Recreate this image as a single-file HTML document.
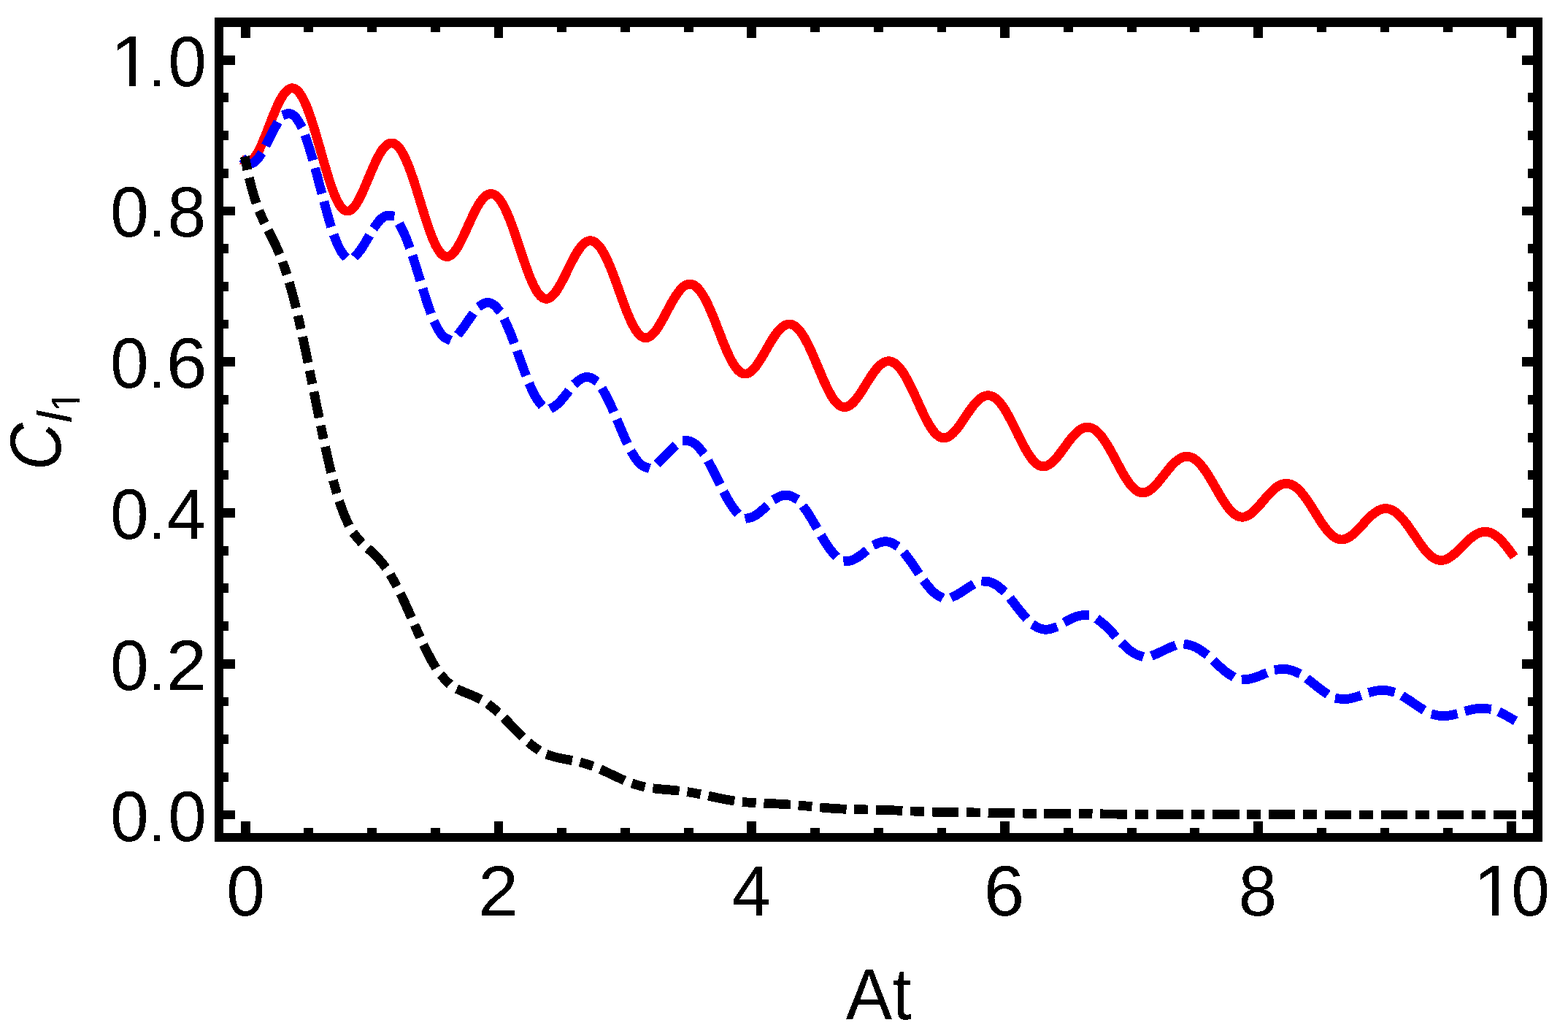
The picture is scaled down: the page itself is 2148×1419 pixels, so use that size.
<!DOCTYPE html>
<html lang="en"><head><meta charset="utf-8"><title>Coherence plot</title>
<style>html,body{margin:0;padding:0;background:#fff;overflow:hidden}svg{display:block}text{font-family:"Liberation Sans",Arial,Helvetica,sans-serif;fill:#000;text-rendering:geometricPrecision}</style></head><body>
<svg width="2148" height="1419" viewBox="0 0 2148 1419">
<rect x="0" y="0" width="2148" height="1419" fill="#fff"/>
<g fill="none" stroke-width="12.82" stroke-linecap="square" stroke-linejoin="round" shape-rendering="crispEdges">
<path stroke="#f00" d="M336.50 220.71 338.23 221.37 339.97 221.55 341.70 221.27 343.44 220.52 345.17 219.34 346.90 217.73 348.64 215.71 350.37 213.32 352.11 210.57 353.84 207.49 355.57 204.12 357.31 200.49 359.04 196.63 360.78 192.57 362.51 188.36 364.24 184.02 365.98 179.59 367.71 175.12 369.45 170.62 371.18 166.15 372.91 161.73 374.65 157.39 376.38 153.18 378.12 149.11 379.85 145.22 381.58 141.54 383.32 138.09 385.05 134.89 386.79 131.98 388.52 129.36 390.25 127.06 391.99 125.10 393.72 123.49 395.46 122.24 397.19 121.37 398.92 120.88 400.66 120.78 402.39 121.07 404.13 121.76 405.86 122.84 407.59 124.33 409.33 126.20 411.06 128.45 412.80 131.09 414.53 134.09 416.26 137.45 418.00 141.15 419.73 145.18 421.47 149.52 423.20 154.15 424.93 159.05 426.67 164.19 428.40 169.56 430.14 175.12 431.87 180.85 433.60 186.72 435.34 192.71 437.07 198.77 438.81 204.88 440.54 211.00 442.27 217.11 444.01 223.17 445.74 229.14 447.48 234.99 449.21 240.69 450.94 246.20 452.68 251.50 454.41 256.55 456.15 261.31 457.88 265.78 459.61 269.90 461.35 273.68 463.08 277.07 464.82 280.07 466.55 282.66 468.28 284.82 470.02 286.55 471.75 287.83 473.49 288.68 475.22 289.08 476.95 289.05 478.69 288.59 480.42 287.71 482.16 286.44 483.89 284.77 485.62 282.75 487.36 280.38 489.09 277.69 490.83 274.72 492.56 271.49 494.29 268.03 496.03 264.38 497.76 260.55 499.50 256.60 501.23 252.55 502.96 248.43 504.70 244.28 506.43 240.13 508.17 236.01 509.90 231.96 511.63 228.00 513.37 224.16 515.10 220.47 516.84 216.96 518.57 213.65 520.30 210.57 522.04 207.73 523.77 205.16 525.51 202.88 527.24 200.90 528.97 199.23 530.71 197.89 532.44 196.90 534.18 196.25 535.91 195.96 537.64 196.04 539.38 196.48 541.11 197.28 542.85 198.45 544.58 199.99 546.31 201.88 548.05 204.13 549.78 206.73 551.52 209.65 553.25 212.91 554.98 216.47 556.72 220.33 558.45 224.47 560.19 228.86 561.92 233.50 563.65 238.35 565.39 243.40 567.12 248.61 568.86 253.98 570.59 259.46 572.32 265.02 574.06 270.65 575.79 276.31 577.53 281.97 579.26 287.60 580.99 293.17 582.73 298.64 584.46 303.99 586.20 309.18 587.93 314.19 589.66 318.98 591.40 323.53 593.13 327.81 594.87 331.80 596.60 335.47 598.33 338.80 600.07 341.77 601.80 344.37 603.54 346.58 605.27 348.39 607.00 349.80 608.74 350.81 610.47 351.40 612.21 351.59 613.94 351.37 615.67 350.77 617.41 349.79 619.14 348.44 620.88 346.74 622.61 344.72 624.34 342.40 626.08 339.79 627.81 336.93 629.55 333.84 631.28 330.55 633.01 327.10 634.75 323.51 636.48 319.81 638.22 316.03 639.95 312.20 641.68 308.36 643.42 304.54 645.15 300.75 646.89 297.04 648.62 293.43 650.35 289.94 652.09 286.61 653.82 283.44 655.56 280.48 657.29 277.73 659.02 275.22 660.76 272.96 662.49 270.98 664.23 269.28 665.96 267.88 667.69 266.79 669.43 266.01 671.16 265.57 672.90 265.45 674.63 265.68 676.36 266.24 678.10 267.14 679.83 268.38 681.57 269.95 683.30 271.85 685.03 274.08 686.77 276.62 688.50 279.47 690.24 282.61 691.97 286.03 693.70 289.72 695.44 293.65 697.17 297.82 698.91 302.20 700.64 306.77 702.37 311.52 704.11 316.40 705.84 321.41 707.58 326.52 709.31 331.70 711.04 336.92 712.78 342.15 714.51 347.37 716.25 352.56 717.98 357.67 719.71 362.68 721.45 367.56 723.18 372.28 724.92 376.82 726.65 381.16 728.38 385.25 730.12 389.09 731.85 392.64 733.59 395.89 735.32 398.82 737.05 401.41 738.79 403.64 740.52 405.52 742.26 407.03 743.99 408.16 745.72 408.91 747.46 409.29 749.19 409.29 750.93 408.92 752.66 408.20 754.39 407.14 756.13 405.74 757.86 404.03 759.60 402.03 761.33 399.76 763.06 397.24 764.80 394.49 766.53 391.55 768.27 388.44 770.00 385.18 771.73 381.81 773.47 378.35 775.20 374.84 776.94 371.29 778.67 367.74 780.40 364.22 782.14 360.75 783.87 357.36 785.61 354.07 787.34 350.91 789.07 347.89 790.81 345.05 792.54 342.40 794.28 339.96 796.01 337.74 797.74 335.77 799.48 334.06 801.21 332.61 802.95 331.45 804.68 330.57 806.41 330.00 808.15 329.72 809.88 329.76 811.62 330.11 813.35 330.78 815.08 331.75 816.82 333.04 818.55 334.63 820.29 336.53 822.02 338.73 823.75 341.21 825.49 343.97 827.22 346.99 828.96 350.27 830.69 353.78 832.42 357.52 834.16 361.47 835.89 365.60 837.63 369.90 839.36 374.35 841.09 378.93 842.83 383.60 844.56 388.36 846.30 393.16 848.03 398.00 849.76 402.84 851.50 407.65 853.23 412.41 854.97 417.10 856.70 421.68 858.43 426.13 860.17 430.42 861.90 434.53 863.64 438.44 865.37 442.12 867.10 445.54 868.84 448.70 870.57 451.57 872.31 454.14 874.04 456.38 875.77 458.30 877.51 459.88 879.24 461.11 880.98 461.99 882.71 462.53 884.44 462.72 886.18 462.56 887.91 462.07 889.65 461.26 891.38 460.13 893.11 458.70 894.85 457.00 896.58 455.03 898.32 452.82 900.05 450.39 901.78 447.77 903.52 444.97 905.25 442.03 906.99 438.97 908.72 435.81 910.45 432.59 912.19 429.32 913.92 426.04 915.66 422.77 917.39 419.53 919.12 416.35 920.86 413.26 922.59 410.27 924.33 407.40 926.06 404.69 927.79 402.14 929.53 399.78 931.26 397.61 933.00 395.67 934.73 393.95 936.46 392.48 938.20 391.26 939.93 390.31 941.67 389.63 943.40 389.22 945.13 389.10 946.87 389.27 948.60 389.73 950.34 390.47 952.07 391.51 953.80 392.83 955.54 394.43 957.27 396.32 959.01 398.47 960.74 400.88 962.47 403.54 964.21 406.45 965.94 409.58 967.68 412.93 969.41 416.48 971.14 420.21 972.88 424.10 974.61 428.14 976.35 432.31 978.08 436.59 979.81 440.94 981.55 445.36 983.28 449.82 985.02 454.30 986.75 458.76 988.48 463.19 990.22 467.57 991.95 471.86 993.69 476.04 995.42 480.09 997.15 483.98 998.89 487.70 1000.62 491.22 1002.36 494.51 1004.09 497.57 1005.82 500.37 1007.56 502.89 1009.29 505.13 1011.03 507.07 1012.76 508.69 1014.49 510.01 1016.23 511.00 1017.96 511.67 1019.70 512.01 1021.43 512.04 1023.16 511.75 1024.90 511.16 1026.63 510.27 1028.37 509.10 1030.10 507.66 1031.83 505.97 1033.57 504.05 1035.30 501.91 1037.04 499.58 1038.77 497.08 1040.50 494.43 1042.24 491.65 1043.97 488.78 1045.71 485.83 1047.44 482.83 1049.17 479.80 1050.91 476.77 1052.64 473.75 1054.38 470.78 1056.11 467.88 1057.84 465.06 1059.58 462.35 1061.31 459.76 1063.05 457.32 1064.78 455.04 1066.51 452.94 1068.25 451.03 1069.98 449.33 1071.72 447.84 1073.45 446.59 1075.18 445.57 1076.92 444.81 1078.65 444.29 1080.39 444.04 1082.12 444.05 1083.85 444.33 1085.59 444.88 1087.32 445.69 1089.06 446.77 1090.79 448.11 1092.52 449.71 1094.26 451.57 1095.99 453.67 1097.73 456.01 1099.46 458.57 1101.19 461.36 1102.93 464.35 1104.66 467.53 1106.40 470.89 1108.13 474.41 1109.86 478.07 1111.60 481.87 1113.33 485.77 1115.07 489.76 1116.80 493.82 1118.53 497.92 1120.27 502.05 1122.00 506.19 1123.74 510.30 1125.47 514.38 1127.20 518.39 1128.94 522.31 1130.67 526.12 1132.41 529.80 1134.14 533.33 1135.87 536.68 1137.61 539.84 1139.34 542.79 1141.08 545.51 1142.81 547.98 1144.54 550.19 1146.28 552.14 1148.01 553.80 1149.75 555.17 1151.48 556.25 1153.21 557.02 1154.95 557.51 1156.68 557.69 1158.42 557.58 1160.15 557.18 1161.88 556.51 1163.62 555.57 1165.35 554.37 1167.09 552.93 1168.82 551.26 1170.55 549.39 1172.29 547.33 1174.02 545.10 1175.76 542.72 1177.49 540.22 1179.22 537.61 1180.96 534.91 1182.69 532.16 1184.43 529.37 1186.16 526.57 1187.89 523.77 1189.63 521.00 1191.36 518.28 1193.10 515.63 1194.83 513.07 1196.56 510.61 1198.30 508.28 1200.03 506.09 1201.77 504.05 1203.50 502.19 1205.23 500.51 1206.97 499.03 1208.70 497.76 1210.44 496.70 1212.17 495.86 1213.90 495.26 1215.64 494.90 1217.37 494.78 1219.11 494.90 1220.84 495.27 1222.57 495.89 1224.31 496.76 1226.04 497.87 1227.78 499.22 1229.51 500.81 1231.24 502.63 1232.98 504.67 1234.71 506.93 1236.45 509.40 1238.18 512.06 1239.91 514.91 1241.65 517.93 1243.38 521.10 1245.12 524.42 1246.85 527.87 1248.58 531.42 1250.32 535.07 1252.05 538.79 1253.79 542.56 1255.52 546.37 1257.25 550.19 1258.99 554.01 1260.72 557.80 1262.46 561.54 1264.19 565.21 1265.92 568.80 1267.66 572.27 1269.39 575.61 1271.13 578.80 1272.86 581.82 1274.59 584.65 1276.33 587.28 1278.06 589.69 1279.80 591.86 1281.53 593.80 1283.26 595.47 1285.00 596.89 1286.73 598.03 1288.47 598.90 1290.20 599.49 1291.93 599.81 1293.67 599.85 1295.40 599.63 1297.14 599.14 1298.87 598.41 1300.60 597.42 1302.34 596.21 1304.07 594.78 1305.81 593.15 1307.54 591.34 1309.27 589.36 1311.01 587.23 1312.74 584.98 1314.48 582.61 1316.21 580.16 1317.94 577.65 1319.68 575.08 1321.41 572.50 1323.15 569.91 1324.88 567.33 1326.61 564.79 1328.35 562.30 1330.08 559.88 1331.82 557.56 1333.55 555.34 1335.28 553.24 1337.02 551.28 1338.75 549.47 1340.49 547.83 1342.22 546.36 1343.95 545.07 1345.69 543.99 1347.42 543.10 1349.16 542.43 1350.89 541.97 1352.62 541.74 1354.36 541.73 1356.09 541.95 1357.83 542.40 1359.56 543.08 1361.29 543.98 1363.03 545.11 1364.76 546.46 1366.50 548.03 1368.23 549.81 1369.96 551.79 1371.70 553.97 1373.43 556.34 1375.17 558.88 1376.90 561.58 1378.63 564.44 1380.37 567.44 1382.10 570.56 1383.84 573.80 1385.57 577.12 1387.30 580.53 1389.04 583.99 1390.77 587.50 1392.51 591.03 1394.24 594.56 1395.97 598.08 1397.71 601.57 1399.44 605.00 1401.18 608.36 1402.91 611.63 1404.64 614.78 1406.38 617.81 1408.11 620.69 1409.85 623.40 1411.58 625.93 1413.31 628.27 1415.05 630.40 1416.78 632.31 1418.52 633.99 1420.25 635.43 1421.98 636.62 1423.72 637.56 1425.45 638.25 1427.19 638.68 1428.92 638.86 1430.65 638.78 1432.39 638.46 1434.12 637.91 1435.86 637.12 1437.59 636.11 1439.32 634.90 1441.06 633.49 1442.79 631.90 1444.53 630.15 1446.26 628.26 1447.99 626.23 1449.73 624.10 1451.46 621.88 1453.20 619.58 1454.93 617.23 1456.66 614.85 1458.40 612.45 1460.13 610.06 1461.87 607.69 1463.60 605.36 1465.33 603.09 1467.07 600.89 1468.80 598.79 1470.54 596.79 1472.27 594.90 1474.00 593.15 1475.74 591.55 1477.47 590.10 1479.21 588.82 1480.94 587.72 1482.67 586.80 1484.41 586.07 1486.14 585.54 1487.88 585.21 1489.61 585.09 1491.34 585.18 1493.08 585.48 1494.81 585.99 1496.55 586.72 1498.28 587.65 1500.01 588.79 1501.75 590.13 1503.48 591.67 1505.22 593.40 1506.95 595.32 1508.68 597.41 1510.42 599.68 1512.15 602.10 1513.89 604.67 1515.62 607.37 1517.35 610.20 1519.09 613.13 1520.82 616.16 1522.56 619.27 1524.29 622.45 1526.02 625.67 1527.76 628.92 1529.49 632.19 1531.23 635.46 1532.96 638.70 1534.69 641.90 1536.43 645.04 1538.16 648.11 1539.90 651.09 1541.63 653.95 1543.36 656.69 1545.10 659.28 1546.83 661.71 1548.57 663.97 1550.30 666.05 1552.03 667.93 1553.77 669.59 1555.50 671.04 1557.24 672.27 1558.97 673.27 1560.70 674.03 1562.44 674.55 1564.17 674.84 1565.91 674.90 1567.64 674.73 1569.37 674.33 1571.11 673.71 1572.84 672.89 1574.58 671.87 1576.31 670.66 1578.04 669.28 1579.78 667.75 1581.51 666.07 1583.25 664.26 1584.98 662.34 1586.71 660.32 1588.45 658.24 1590.18 656.09 1591.92 653.90 1593.65 651.69 1595.38 649.48 1597.12 647.27 1598.85 645.10 1600.59 642.97 1602.32 640.90 1604.05 638.90 1605.79 637.00 1607.52 635.20 1609.26 633.51 1610.99 631.95 1612.72 630.54 1614.46 629.27 1616.19 628.16 1617.93 627.22 1619.66 626.45 1621.39 625.86 1623.13 625.45 1624.86 625.24 1626.60 625.21 1628.33 625.39 1630.06 625.75 1631.80 626.32 1633.53 627.07 1635.27 628.02 1637.00 629.16 1638.73 630.49 1640.47 632.00 1642.20 633.68 1643.94 635.53 1645.67 637.54 1647.40 639.70 1649.14 642.00 1650.87 644.43 1652.61 646.98 1654.34 649.65 1656.07 652.40 1657.81 655.24 1659.54 658.14 1661.28 661.10 1663.01 664.10 1664.74 667.11 1666.48 670.13 1668.21 673.14 1669.95 676.12 1671.68 679.06 1673.41 681.94 1675.15 684.74 1676.88 687.44 1678.62 690.04 1680.35 692.51 1682.08 694.84 1683.82 697.02 1685.55 699.03 1687.29 700.86 1689.02 702.51 1690.75 703.96 1692.49 705.21 1694.22 706.24 1695.96 707.06 1697.69 707.67 1699.42 708.05 1701.16 708.22 1702.89 708.18 1704.63 707.92 1706.36 707.46 1708.09 706.80 1709.83 705.96 1711.56 704.93 1713.30 703.74 1715.03 702.40 1716.76 700.91 1718.50 699.30 1720.23 697.58 1721.97 695.76 1723.70 693.87 1725.43 691.91 1727.17 689.91 1728.90 687.87 1730.64 685.83 1732.37 683.78 1734.10 681.75 1735.84 679.76 1737.57 677.81 1739.31 675.93 1741.04 674.12 1742.77 672.40 1744.51 670.79 1746.24 669.28 1747.98 667.90 1749.71 666.65 1751.44 665.55 1753.18 664.59 1754.91 663.79 1756.65 663.16 1758.38 662.69 1760.11 662.40 1761.85 662.28 1763.58 662.34 1765.32 662.58 1767.05 663.01 1768.78 663.61 1770.52 664.39 1772.25 665.35 1773.99 666.49 1775.72 667.79 1777.45 669.26 1779.19 670.88 1780.92 672.66 1782.66 674.58 1784.39 676.64 1786.12 678.83 1787.86 681.13 1789.59 683.54 1791.33 686.04 1793.06 688.62 1794.79 691.28 1796.53 693.99 1798.26 696.74 1800.00 699.52 1801.73 702.31 1803.46 705.10 1805.20 707.87 1806.93 710.61 1808.67 713.30 1810.40 715.93 1812.13 718.48 1813.87 720.94 1815.60 723.28 1817.34 725.51 1819.07 727.60 1820.80 729.55 1822.54 731.33 1824.27 732.95 1826.01 734.39 1827.74 735.64 1829.47 736.71 1831.21 737.57 1832.94 738.24 1834.68 738.71 1836.41 738.97 1838.14 739.04 1839.88 738.90 1841.61 738.58 1843.35 738.07 1845.08 737.38 1846.81 736.52 1848.55 735.50 1850.28 734.33 1852.02 733.03 1853.75 731.60 1855.48 730.06 1857.22 728.43 1858.95 726.71 1860.69 724.93 1862.42 723.10 1864.15 721.24 1865.89 719.35 1867.62 717.45 1869.36 715.57 1871.09 713.71 1872.82 711.88 1874.56 710.11 1876.29 708.40 1878.03 706.76 1879.76 705.22 1881.49 703.77 1883.23 702.43 1884.96 701.21 1886.70 700.11 1888.43 699.16 1890.16 698.34 1891.90 697.67 1893.63 697.15 1895.37 696.79 1897.10 696.60 1898.83 696.56 1900.57 696.70 1902.30 697.00 1904.04 697.47 1905.77 698.10 1907.50 698.90 1909.24 699.86 1910.97 700.98 1912.71 702.26 1914.44 703.68 1916.17 705.25 1917.91 706.96 1919.64 708.79 1921.38 710.75 1923.11 712.82 1924.84 715.00 1926.58 717.26 1928.31 719.61 1930.05 722.03 1931.78 724.51 1933.51 727.04 1935.25 729.59 1936.98 732.17 1938.72 734.75 1940.45 737.32 1942.18 739.88 1943.92 742.39 1945.65 744.85 1947.39 747.25 1949.12 749.57 1950.85 751.79 1952.59 753.92 1954.32 755.92 1956.06 757.79 1957.79 759.52 1959.52 761.10 1961.26 762.52 1962.99 763.78 1964.73 764.85 1966.46 765.75 1968.19 766.47 1969.93 767.00 1971.66 767.35 1973.40 767.51 1975.13 767.48 1976.86 767.28 1978.60 766.90 1980.33 766.35 1982.07 765.64 1983.80 764.77 1985.53 763.77 1987.27 762.63 1989.00 761.37 1990.74 760.00 1992.47 758.54 1994.20 756.99 1995.94 755.37 1997.67 753.71 1999.41 752.00 2001.14 750.26 2002.87 748.51 2004.61 746.76 2006.34 745.03 2008.08 743.32 2009.81 741.65 2011.54 740.04 2013.28 738.49 2015.01 737.01 2016.75 735.62 2018.48 734.33 2020.21 733.14 2021.95 732.07 2023.68 731.11 2025.42 730.28 2027.15 729.59 2028.88 729.04 2030.62 728.62 2032.35 728.36 2034.09 728.25 2035.82 728.29 2037.55 728.48 2039.29 728.83 2041.02 729.34 2042.76 729.99 2044.49 730.80 2046.22 731.76 2047.96 732.86 2049.69 734.10 2051.43 735.48 2053.16 736.99 2054.89 738.63 2056.63 740.38 2058.36 742.24 2060.10 744.20 2061.83 746.25 2063.56 748.38 2065.30 750.58 2067.03 752.85 2068.77 755.16 2070.50 757.51"/>
<path stroke="#00f" stroke-dasharray="23.65 23.65" stroke-dashoffset="0" d="M336.50 220.71 338.23 222.26 339.97 223.34 341.70 223.95 343.44 224.10 345.17 223.81 346.90 223.10 348.64 221.99 350.37 220.51 352.11 218.68 353.84 216.53 355.57 214.10 357.31 211.41 359.04 208.51 360.78 205.41 362.51 202.17 364.24 198.81 365.98 195.38 367.71 191.90 369.45 188.42 371.18 184.96 372.91 181.56 374.65 178.25 376.38 175.07 378.12 172.04 379.85 169.19 381.58 166.55 383.32 164.14 385.05 161.98 386.79 160.11 388.52 158.52 390.25 157.25 391.99 156.31 393.72 155.71 395.46 155.47 397.19 155.58 398.92 156.07 400.66 156.93 402.39 158.17 404.13 159.79 405.86 161.79 407.59 164.16 409.33 166.91 411.06 170.02 412.80 173.49 414.53 177.30 416.26 181.45 418.00 185.91 419.73 190.68 421.47 195.74 423.20 201.06 424.93 206.63 426.67 212.42 428.40 218.42 430.14 224.58 431.87 230.90 433.60 237.34 435.34 243.87 437.07 250.46 438.81 257.08 440.54 263.71 442.27 270.31 444.01 276.85 445.74 283.29 447.48 289.61 449.21 295.78 450.94 301.76 452.68 307.53 454.41 313.05 456.15 318.30 457.88 323.26 459.61 327.90 461.35 332.20 463.08 336.14 464.82 339.70 466.55 342.88 468.28 345.65 470.02 348.02 471.75 349.98 473.49 351.53 475.22 352.67 476.95 353.40 478.69 353.74 480.42 353.69 482.16 353.28 483.89 352.51 485.62 351.42 487.36 350.01 489.09 348.32 490.83 346.37 492.56 344.18 494.29 341.80 496.03 339.24 497.76 336.53 499.50 333.71 501.23 330.81 502.96 327.85 504.70 324.87 506.43 321.90 508.17 318.97 509.90 316.09 511.63 313.31 513.37 310.65 515.10 308.13 516.84 305.77 518.57 303.60 520.30 301.64 522.04 299.91 523.77 298.41 525.51 297.18 527.24 296.23 528.97 295.56 530.71 295.18 532.44 295.11 534.18 295.36 535.91 295.92 537.64 296.81 539.38 298.01 541.11 299.55 542.85 301.40 544.58 303.58 546.31 306.07 548.05 308.87 549.78 311.97 551.52 315.36 553.25 319.03 554.98 322.97 556.72 327.16 558.45 331.59 560.19 336.24 561.92 341.09 563.65 346.12 565.39 351.31 567.12 356.64 568.86 362.09 570.59 367.63 572.32 373.24 574.06 378.89 575.79 384.56 577.53 390.21 579.26 395.83 580.99 401.39 582.73 406.85 584.46 412.20 586.20 417.40 587.93 422.43 589.66 427.26 591.40 431.88 593.13 436.25 594.87 440.37 596.60 444.20 598.33 447.74 600.07 450.96 601.80 453.85 603.54 456.41 605.27 458.62 607.00 460.48 608.74 462.00 610.47 463.16 612.21 463.97 613.94 464.44 615.67 464.58 617.41 464.39 619.14 463.90 620.88 463.11 622.61 462.05 624.34 460.73 626.08 459.18 627.81 457.42 629.55 455.47 631.28 453.36 633.01 451.11 634.75 448.75 636.48 446.30 638.22 443.80 639.95 441.26 641.68 438.71 643.42 436.19 645.15 433.70 646.89 431.28 648.62 428.95 650.35 426.72 652.09 424.63 653.82 422.69 655.56 420.91 657.29 419.32 659.02 417.93 660.76 416.76 662.49 415.82 664.23 415.11 665.96 414.65 667.69 414.45 669.43 414.51 671.16 414.85 672.90 415.46 674.63 416.34 676.36 417.50 678.10 418.94 679.83 420.65 681.57 422.63 683.30 424.89 685.03 427.40 686.77 430.16 688.50 433.17 690.24 436.42 691.97 439.88 693.70 443.56 695.44 447.43 697.17 451.49 698.91 455.70 700.64 460.07 702.37 464.57 704.11 469.17 705.84 473.87 707.58 478.63 709.31 483.44 711.04 488.28 712.78 493.12 714.51 497.94 716.25 502.72 717.98 507.44 719.71 512.06 721.45 516.58 723.18 520.96 724.92 525.18 726.65 529.23 728.38 533.08 730.12 536.72 731.85 540.13 733.59 543.29 735.32 546.19 737.05 548.81 738.79 551.16 740.52 553.21 742.26 554.96 743.99 556.42 745.72 557.57 747.46 558.43 749.19 558.98 750.93 559.25 752.66 559.24 754.39 558.96 756.13 558.42 757.86 557.64 759.60 556.63 761.33 555.41 763.06 554.00 764.80 552.42 766.53 550.69 768.27 548.82 770.00 546.86 771.73 544.80 773.47 542.69 775.20 540.53 776.94 538.35 778.67 536.18 780.40 534.03 782.14 531.93 783.87 529.90 785.61 527.94 787.34 526.09 789.07 524.36 790.81 522.76 792.54 521.32 794.28 520.04 796.01 518.93 797.74 518.02 799.48 517.30 801.21 516.80 802.95 516.51 804.68 516.44 806.41 516.60 808.15 516.99 809.88 517.62 811.62 518.48 813.35 519.58 815.08 520.92 816.82 522.49 818.55 524.29 820.29 526.32 822.02 528.57 823.75 531.03 825.49 533.69 827.22 536.56 828.96 539.60 830.69 542.82 832.42 546.20 834.16 549.74 835.89 553.40 837.63 557.19 839.36 561.07 841.09 565.05 842.83 569.09 844.56 573.18 846.30 577.31 848.03 581.45 849.76 585.58 851.50 589.68 853.23 593.75 854.97 597.74 856.70 601.65 858.43 605.46 860.17 609.15 861.90 612.69 863.64 616.07 865.37 619.29 867.10 622.31 868.84 625.12 870.57 627.72 872.31 630.09 874.04 632.23 875.77 634.11 877.51 635.75 879.24 637.13 880.98 638.26 882.71 639.13 884.44 639.74 886.18 640.10 887.91 640.22 889.65 640.10 891.38 639.76 893.11 639.20 894.85 638.44 896.58 637.50 898.32 636.38 900.05 635.10 901.78 633.69 903.52 632.15 905.25 630.52 906.99 628.80 908.72 627.02 910.45 625.19 912.19 623.34 913.92 621.48 915.66 619.63 917.39 617.81 919.12 616.04 920.86 614.33 922.59 612.70 924.33 611.16 926.06 609.73 927.79 608.43 929.53 607.25 931.26 606.23 933.00 605.36 934.73 604.65 936.46 604.12 938.20 603.77 939.93 603.61 941.67 603.64 943.40 603.87 945.13 604.30 946.87 604.93 948.60 605.76 950.34 606.79 952.07 608.03 953.80 609.46 955.54 611.09 957.27 612.91 959.01 614.92 960.74 617.10 962.47 619.46 964.21 621.98 965.94 624.65 967.68 627.47 969.41 630.42 971.14 633.49 972.88 636.67 974.61 639.95 976.35 643.30 978.08 646.73 979.81 650.21 981.55 653.72 983.28 657.25 985.02 660.79 986.75 664.31 988.48 667.81 990.22 671.25 991.95 674.64 993.69 677.94 995.42 681.15 997.15 684.25 998.89 687.21 1000.62 690.04 1002.36 692.71 1004.09 695.21 1005.82 697.54 1007.56 699.67 1009.29 701.60 1011.03 703.33 1012.76 704.85 1014.49 706.14 1016.23 707.22 1017.96 708.08 1019.70 708.73 1021.43 709.15 1023.16 709.36 1024.90 709.37 1026.63 709.18 1028.37 708.80 1030.10 708.25 1031.83 707.52 1033.57 706.64 1035.30 705.62 1037.04 704.48 1038.77 703.22 1040.50 701.87 1042.24 700.43 1043.97 698.94 1045.71 697.40 1047.44 695.82 1049.17 694.23 1050.91 692.65 1052.64 691.08 1054.38 689.54 1056.11 688.05 1057.84 686.61 1059.58 685.26 1061.31 683.98 1063.05 682.81 1064.78 681.74 1066.51 680.80 1068.25 679.98 1069.98 679.30 1071.72 678.77 1073.45 678.39 1075.18 678.16 1076.92 678.10 1078.65 678.20 1080.39 678.48 1082.12 678.92 1083.85 679.54 1085.59 680.33 1087.32 681.29 1089.06 682.42 1090.79 683.73 1092.52 685.19 1094.26 686.82 1095.99 688.61 1097.73 690.54 1099.46 692.62 1101.19 694.84 1102.93 697.18 1104.66 699.64 1106.40 702.21 1108.13 704.88 1109.86 707.64 1111.60 710.47 1113.33 713.37 1115.07 716.32 1116.80 719.31 1118.53 722.32 1120.27 725.34 1122.00 728.36 1123.74 731.36 1125.47 734.33 1127.20 737.25 1128.94 740.12 1130.67 742.90 1132.41 745.60 1134.14 748.20 1135.87 750.68 1137.61 753.04 1139.34 755.26 1141.08 757.33 1142.81 759.24 1144.54 760.98 1146.28 762.55 1148.01 763.95 1149.75 765.16 1151.48 766.18 1153.21 767.02 1154.95 767.67 1156.68 768.13 1158.42 768.41 1160.15 768.51 1161.88 768.44 1163.62 768.20 1165.35 767.81 1167.09 767.26 1168.82 766.58 1170.55 765.77 1172.29 764.85 1174.02 763.82 1175.76 762.71 1177.49 761.52 1179.22 760.27 1180.96 758.97 1182.69 757.64 1184.43 756.29 1186.16 754.93 1187.89 753.58 1189.63 752.25 1191.36 750.95 1193.10 749.70 1194.83 748.50 1196.56 747.37 1198.30 746.32 1200.03 745.36 1201.77 744.50 1203.50 743.74 1205.23 743.09 1206.97 742.57 1208.70 742.17 1210.44 741.91 1212.17 741.78 1213.90 741.79 1215.64 741.94 1217.37 742.24 1219.11 742.69 1220.84 743.29 1222.57 744.03 1224.31 744.92 1226.04 745.96 1227.78 747.14 1229.51 748.45 1231.24 749.91 1232.98 751.49 1234.71 753.20 1236.45 755.03 1238.18 756.98 1239.91 759.03 1241.65 761.18 1243.38 763.41 1245.12 765.73 1246.85 768.12 1248.58 770.57 1250.32 773.06 1252.05 775.60 1253.79 778.17 1255.52 780.75 1257.25 783.33 1258.99 785.90 1260.72 788.46 1262.46 790.98 1264.19 793.45 1265.92 795.87 1267.66 798.22 1269.39 800.49 1271.13 802.67 1272.86 804.74 1274.59 806.70 1276.33 808.54 1278.06 810.24 1279.80 811.81 1281.53 813.24 1283.26 814.51 1285.00 815.63 1286.73 816.59 1288.47 817.39 1290.20 818.03 1291.93 818.52 1293.67 818.84 1295.40 819.01 1297.14 819.02 1298.87 818.90 1300.60 818.63 1302.34 818.23 1304.07 817.71 1305.81 817.08 1307.54 816.34 1309.27 815.51 1311.01 814.60 1312.74 813.62 1314.48 812.58 1316.21 811.49 1317.94 810.36 1319.68 809.21 1321.41 808.05 1323.15 806.90 1324.88 805.75 1326.61 804.62 1328.35 803.53 1330.08 802.48 1331.82 801.48 1333.55 800.55 1335.28 799.68 1337.02 798.90 1338.75 798.20 1340.49 797.60 1342.22 797.09 1343.95 796.69 1345.69 796.41 1347.42 796.23 1349.16 796.18 1350.89 796.24 1352.62 796.43 1354.36 796.75 1356.09 797.19 1357.83 797.75 1359.56 798.45 1361.29 799.27 1363.03 800.21 1364.76 801.27 1366.50 802.45 1368.23 803.75 1369.96 805.15 1371.70 806.66 1373.43 808.27 1375.17 809.97 1376.90 811.77 1378.63 813.64 1380.37 815.58 1382.10 817.59 1383.84 819.66 1385.57 821.77 1387.30 823.92 1389.04 826.10 1390.77 828.30 1392.51 830.51 1394.24 832.71 1395.97 834.91 1397.71 837.08 1399.44 839.22 1401.18 841.31 1402.91 843.35 1404.64 845.33 1406.38 847.23 1408.11 849.05 1409.85 850.78 1411.58 852.41 1413.31 853.93 1415.05 855.33 1416.78 856.62 1418.52 857.78 1420.25 858.81 1421.98 859.70 1423.72 860.46 1425.45 861.08 1427.19 861.57 1428.92 861.91 1430.65 862.13 1432.39 862.21 1434.12 862.17 1435.86 862.01 1437.59 861.73 1439.32 861.34 1441.06 860.85 1442.79 860.26 1444.53 859.60 1446.26 858.85 1447.99 858.05 1449.73 857.18 1451.46 856.27 1453.20 855.32 1454.93 854.35 1456.66 853.37 1458.40 852.37 1460.13 851.39 1461.87 850.41 1463.60 849.46 1465.33 848.54 1467.07 847.67 1468.80 846.84 1470.54 846.07 1472.27 845.36 1474.00 844.72 1475.74 844.16 1477.47 843.68 1479.21 843.29 1480.94 843.00 1482.67 842.79 1484.41 842.69 1486.14 842.69 1487.88 842.80 1489.61 843.01 1491.34 843.33 1493.08 843.75 1494.81 844.29 1496.55 844.93 1498.28 845.68 1500.01 846.53 1501.75 847.48 1503.48 848.54 1505.22 849.69 1506.95 850.93 1508.68 852.26 1510.42 853.68 1512.15 855.17 1513.89 856.73 1515.62 858.36 1517.35 860.05 1519.09 861.79 1520.82 863.57 1522.56 865.39 1524.29 867.25 1526.02 869.12 1527.76 871.00 1529.49 872.89 1531.23 874.77 1532.96 876.64 1534.69 878.48 1536.43 880.29 1538.16 882.06 1539.90 883.78 1541.63 885.44 1543.36 887.04 1545.10 888.56 1546.83 890.00 1548.57 891.35 1550.30 892.60 1552.03 893.76 1553.77 894.80 1555.50 895.74 1557.24 896.57 1558.97 897.28 1560.70 897.88 1562.44 898.35 1564.17 898.71 1565.91 898.96 1567.64 899.09 1569.37 899.11 1571.11 899.03 1572.84 898.84 1574.58 898.56 1576.31 898.19 1578.04 897.73 1579.78 897.20 1581.51 896.60 1583.25 895.93 1584.98 895.22 1586.71 894.46 1588.45 893.67 1590.18 892.85 1591.92 892.01 1593.65 891.17 1595.38 890.32 1597.12 889.48 1598.85 888.65 1600.59 887.85 1602.32 887.08 1604.05 886.35 1605.79 885.67 1607.52 885.03 1609.26 884.45 1610.99 883.94 1612.72 883.49 1614.46 883.12 1616.19 882.82 1617.93 882.60 1619.66 882.47 1621.39 882.42 1623.13 882.46 1624.86 882.59 1626.60 882.82 1628.33 883.13 1630.06 883.54 1631.80 884.04 1633.53 884.63 1635.27 885.31 1637.00 886.08 1638.73 886.93 1640.47 887.87 1642.20 888.89 1643.94 889.99 1645.67 891.16 1647.40 892.40 1649.14 893.70 1650.87 895.06 1652.61 896.48 1654.34 897.94 1656.07 899.45 1657.81 900.99 1659.54 902.56 1661.28 904.15 1663.01 905.76 1664.74 907.37 1666.48 908.98 1668.21 910.58 1669.95 912.17 1671.68 913.73 1673.41 915.27 1675.15 916.76 1676.88 918.21 1678.62 919.60 1680.35 920.94 1682.08 922.21 1683.82 923.40 1685.55 924.52 1687.29 925.55 1689.02 926.50 1690.75 927.35 1692.49 928.11 1694.22 928.77 1695.96 929.33 1697.69 929.80 1699.42 930.16 1701.16 930.42 1702.89 930.58 1704.63 930.65 1706.36 930.63 1708.09 930.52 1709.83 930.32 1711.56 930.04 1713.30 929.69 1715.03 929.27 1716.76 928.79 1718.50 928.25 1720.23 927.66 1721.97 927.03 1723.70 926.37 1725.43 925.68 1727.17 924.97 1728.90 924.25 1730.64 923.53 1732.37 922.80 1734.10 922.09 1735.84 921.40 1737.57 920.72 1739.31 920.08 1741.04 919.47 1742.77 918.90 1744.51 918.38 1746.24 917.91 1747.98 917.50 1749.71 917.15 1751.44 916.86 1753.18 916.63 1754.91 916.48 1756.65 916.40 1758.38 916.39 1760.11 916.46 1761.85 916.61 1763.58 916.84 1765.32 917.14 1767.05 917.53 1768.78 917.99 1770.52 918.53 1772.25 919.15 1773.99 919.84 1775.72 920.60 1777.45 921.44 1779.19 922.34 1780.92 923.31 1782.66 924.33 1784.39 925.42 1786.12 926.56 1787.86 927.74 1789.59 928.97 1791.33 930.24 1793.06 931.54 1794.79 932.87 1796.53 934.22 1798.26 935.59 1800.00 936.96 1801.73 938.34 1803.46 939.72 1805.20 941.08 1806.93 942.43 1808.67 943.75 1810.40 945.05 1812.13 946.31 1813.87 947.53 1815.60 948.70 1817.34 949.81 1819.07 950.87 1820.80 951.86 1822.54 952.78 1824.27 953.63 1826.01 954.40 1827.74 955.09 1829.47 955.70 1831.21 956.23 1832.94 956.67 1834.68 957.03 1836.41 957.30 1838.14 957.48 1839.88 957.59 1841.61 957.61 1843.35 957.55 1845.08 957.42 1846.81 957.22 1848.55 956.95 1850.28 956.62 1852.02 956.24 1853.75 955.80 1855.48 955.32 1857.22 954.81 1858.95 954.25 1860.69 953.68 1862.42 953.08 1864.15 952.47 1865.89 951.85 1867.62 951.23 1869.36 950.62 1871.09 950.01 1872.82 949.43 1874.56 948.86 1876.29 948.33 1878.03 947.82 1879.76 947.36 1881.49 946.93 1883.23 946.55 1884.96 946.22 1886.70 945.94 1888.43 945.72 1890.16 945.56 1891.90 945.46 1893.63 945.42 1895.37 945.44 1897.10 945.53 1898.83 945.69 1900.57 945.91 1902.30 946.20 1904.04 946.56 1905.77 946.99 1907.50 947.48 1909.24 948.04 1910.97 948.66 1912.71 949.34 1914.44 950.08 1916.17 950.88 1917.91 951.73 1919.64 952.63 1921.38 953.58 1923.11 954.57 1924.84 955.60 1926.58 956.67 1928.31 957.76 1930.05 958.89 1931.78 960.03 1933.51 961.19 1935.25 962.37 1936.98 963.54 1938.72 964.72 1940.45 965.89 1942.18 967.05 1943.92 968.20 1945.65 969.32 1947.39 970.41 1949.12 971.47 1950.85 972.49 1952.59 973.47 1954.32 974.40 1956.06 975.28 1957.79 976.10 1959.52 976.86 1961.26 977.56 1962.99 978.18 1964.73 978.74 1966.46 979.23 1968.19 979.65 1969.93 979.99 1971.66 980.26 1973.40 980.46 1975.13 980.59 1976.86 980.64 1978.60 980.63 1980.33 980.55 1982.07 980.41 1983.80 980.21 1985.53 979.96 1987.27 979.66 1989.00 979.31 1990.74 978.92 1992.47 978.49 1994.20 978.04 1995.94 977.55 1997.67 977.05 1999.41 976.54 2001.14 976.01 2002.87 975.48 2004.61 974.95 2006.34 974.43 2008.08 973.92 2009.81 973.43 2011.54 972.96 2013.28 972.51 2015.01 972.09 2016.75 971.71 2018.48 971.37 2020.21 971.06 2021.95 970.80 2023.68 970.58 2025.42 970.41 2027.15 970.30 2028.88 970.24 2030.62 970.23 2032.35 970.27 2034.09 970.38 2035.82 970.54 2037.55 970.76 2039.29 971.03 2041.02 971.37 2042.76 971.76 2044.49 972.20 2046.22 972.70 2047.96 973.26 2049.69 973.86 2051.43 974.52 2053.16 975.22 2054.89 975.97 2056.63 976.76 2058.36 977.58 2060.10 978.45 2061.83 979.34 2063.56 980.27 2065.30 981.22 2067.03 982.19 2068.77 983.17 2070.50 984.17"/>
<path stroke="#000" stroke-dasharray="5.9 23.66 23.66 23.66" stroke-dashoffset="0" d="M336.50 220.71 338.23 229.39 339.97 237.51 341.70 245.10 343.44 252.19 345.17 258.80 346.90 264.95 348.64 270.69 350.37 276.03 352.11 281.02 353.84 285.70 355.57 290.08 357.31 294.22 359.04 298.15 360.78 301.90 362.51 305.51 364.24 309.02 365.98 312.45 367.71 315.85 369.45 319.23 371.18 322.63 372.91 326.08 374.65 329.60 376.38 333.22 378.12 336.96 379.85 340.83 381.58 344.86 383.32 349.07 385.05 353.46 386.79 358.04 388.52 362.84 390.25 367.85 391.99 373.08 393.72 378.54 395.46 384.23 397.19 390.15 398.92 396.30 400.66 402.68 402.39 409.28 404.13 416.09 405.86 423.12 407.59 430.36 409.33 437.78 411.06 445.39 412.80 453.17 414.53 461.12 416.26 469.21 418.00 477.43 419.73 485.76 421.47 494.20 423.20 502.72 424.93 511.32 426.67 519.96 428.40 528.63 430.14 537.31 431.87 545.99 433.60 554.65 435.34 563.26 437.07 571.81 438.81 580.28 440.54 588.65 442.27 596.90 444.01 605.02 445.74 612.99 447.48 620.78 449.21 628.39 450.94 635.81 452.68 643.01 454.41 649.98 456.15 656.72 457.88 663.21 459.61 669.45 461.35 675.43 463.08 681.13 464.82 686.57 466.55 691.74 468.28 696.63 470.02 701.25 471.75 705.61 473.49 709.70 475.22 713.54 476.95 717.13 478.69 720.48 480.42 723.61 482.16 726.53 483.89 729.24 485.62 731.78 487.36 734.14 489.09 736.34 490.83 738.41 492.56 740.36 494.29 742.20 496.03 743.95 497.76 745.63 499.50 747.25 501.23 748.83 502.96 750.39 504.70 751.93 506.43 753.48 508.17 755.04 509.90 756.62 511.63 758.25 513.37 759.92 515.10 761.65 516.84 763.45 518.57 765.32 520.30 767.28 522.04 769.32 523.77 771.46 525.51 773.69 527.24 776.02 528.97 778.45 530.71 780.99 532.44 783.63 534.18 786.38 535.91 789.23 537.64 792.18 539.38 795.24 541.11 798.39 542.85 801.64 544.58 804.98 546.31 808.40 548.05 811.91 549.78 815.49 551.52 819.15 553.25 822.86 554.98 826.64 556.72 830.46 558.45 834.33 560.19 838.23 561.92 842.16 563.65 846.10 565.39 850.06 567.12 854.02 568.86 857.97 570.59 861.91 572.32 865.83 574.06 869.71 575.79 873.55 577.53 877.34 579.26 881.08 580.99 884.75 582.73 888.35 584.46 891.86 586.20 895.29 587.93 898.63 589.66 901.87 591.40 905.00 593.13 908.02 594.87 910.92 596.60 913.71 598.33 916.38 600.07 918.93 601.80 921.35 603.54 923.65 605.27 925.82 607.00 927.87 608.74 929.80 610.47 931.62 612.21 933.31 613.94 934.90 615.67 936.38 617.41 937.76 619.14 939.05 620.88 940.25 622.61 941.37 624.34 942.41 626.08 943.38 627.81 944.30 629.55 945.17 631.28 945.99 633.01 946.77 634.75 947.52 636.48 948.25 638.22 948.97 639.95 949.67 641.68 950.37 643.42 951.08 645.15 951.80 646.89 952.53 648.62 953.28 650.35 954.05 652.09 954.86 653.82 955.69 655.56 956.56 657.29 957.47 659.02 958.42 660.76 959.42 662.49 960.45 664.23 961.54 665.96 962.67 667.69 963.85 669.43 965.07 671.16 966.35 672.90 967.67 674.63 969.04 676.36 970.45 678.10 971.91 679.83 973.41 681.57 974.95 683.30 976.53 685.03 978.15 686.77 979.79 688.50 981.47 690.24 983.18 691.97 984.91 693.70 986.66 695.44 988.43 697.17 990.22 698.91 992.01 700.64 993.82 702.37 995.62 704.11 997.43 705.84 999.23 707.58 1001.02 709.31 1002.80 711.04 1004.56 712.78 1006.30 714.51 1008.02 716.25 1009.71 717.98 1011.37 719.71 1012.99 721.45 1014.58 723.18 1016.12 724.92 1017.62 726.65 1019.07 728.38 1020.48 730.12 1021.83 731.85 1023.13 733.59 1024.38 735.32 1025.57 737.05 1026.71 738.79 1027.78 740.52 1028.81 742.26 1029.77 743.99 1030.68 745.72 1031.54 747.46 1032.34 749.19 1033.09 750.93 1033.79 752.66 1034.44 754.39 1035.05 756.13 1035.62 757.86 1036.15 759.60 1036.64 761.33 1037.11 763.06 1037.54 764.80 1037.94 766.53 1038.33 768.27 1038.69 770.00 1039.04 771.73 1039.38 773.47 1039.71 775.20 1040.03 776.94 1040.36 778.67 1040.68 780.40 1041.00 782.14 1041.33 783.87 1041.67 785.61 1042.01 787.34 1042.37 789.07 1042.75 790.81 1043.13 792.54 1043.54 794.28 1043.96 796.01 1044.40 797.74 1044.87 799.48 1045.35 801.21 1045.85 802.95 1046.38 804.68 1046.93 806.41 1047.50 808.15 1048.09 809.88 1048.70 811.62 1049.33 813.35 1049.99 815.08 1050.66 816.82 1051.35 818.55 1052.06 820.29 1052.79 822.02 1053.53 823.75 1054.29 825.49 1055.06 827.22 1055.85 828.96 1056.64 830.69 1057.44 832.42 1058.26 834.16 1059.07 835.89 1059.89 837.63 1060.71 839.36 1061.54 841.09 1062.36 842.83 1063.18 844.56 1063.99 846.30 1064.80 848.03 1065.60 849.76 1066.39 851.50 1067.17 853.23 1067.93 854.97 1068.68 856.70 1069.41 858.43 1070.13 860.17 1070.82 861.90 1071.50 863.64 1072.15 865.37 1072.78 867.10 1073.39 868.84 1073.97 870.57 1074.52 872.31 1075.05 874.04 1075.56 875.77 1076.04 877.51 1076.49 879.24 1076.92 880.98 1077.33 882.71 1077.70 884.44 1078.06 886.18 1078.39 887.91 1078.70 889.65 1078.99 891.38 1079.26 893.11 1079.51 894.85 1079.74 896.58 1079.96 898.32 1080.16 900.05 1080.36 901.78 1080.54 903.52 1080.71 905.25 1080.87 906.99 1081.03 908.72 1081.18 910.45 1081.33 912.19 1081.48 913.92 1081.62 915.66 1081.77 917.39 1081.92 919.12 1082.07 920.86 1082.22 922.59 1082.38 924.33 1082.55 926.06 1082.72 927.79 1082.90 929.53 1083.09 931.26 1083.29 933.00 1083.50 934.73 1083.71 936.46 1083.94 938.20 1084.17 939.93 1084.41 941.67 1084.67 943.40 1084.93 945.13 1085.21 946.87 1085.49 948.60 1085.78 950.34 1086.09 952.07 1086.40 953.80 1086.72 955.54 1087.04 957.27 1087.38 959.01 1087.72 960.74 1088.07 962.47 1088.42 964.21 1088.78 965.94 1089.15 967.68 1089.52 969.41 1089.89 971.14 1090.26 972.88 1090.63 974.61 1091.01 976.35 1091.38 978.08 1091.76 979.81 1092.13 981.55 1092.50 983.28 1092.87 985.02 1093.23 986.75 1093.59 988.48 1093.94 990.22 1094.28 991.95 1094.62 993.69 1094.95 995.42 1095.28 997.15 1095.59 998.89 1095.89 1000.62 1096.18 1002.36 1096.47 1004.09 1096.74 1005.82 1097.00 1007.56 1097.25 1009.29 1097.48 1011.03 1097.71 1012.76 1097.92 1014.49 1098.12 1016.23 1098.31 1017.96 1098.49 1019.70 1098.66 1021.43 1098.82 1023.16 1098.96 1024.90 1099.10 1026.63 1099.23 1028.37 1099.35 1030.10 1099.46 1031.83 1099.56 1033.57 1099.66 1035.30 1099.75 1037.04 1099.83 1038.77 1099.91 1040.50 1099.99 1042.24 1100.06 1043.97 1100.13 1045.71 1100.20 1047.44 1100.27 1049.17 1100.33 1050.91 1100.40 1052.64 1100.47 1054.38 1100.54 1056.11 1100.61 1057.84 1100.68 1059.58 1100.75 1061.31 1100.83 1063.05 1100.91 1064.78 1100.99 1066.51 1101.08 1068.25 1101.17 1069.98 1101.27 1071.72 1101.37 1073.45 1101.47 1075.18 1101.58 1076.92 1101.70 1078.65 1101.81 1080.39 1101.94 1082.12 1102.06 1083.85 1102.19 1085.59 1102.33 1087.32 1102.47 1089.06 1102.61 1090.79 1102.76 1092.52 1102.91 1094.26 1103.07 1095.99 1103.22 1097.73 1103.38 1099.46 1103.55 1101.19 1103.71 1102.93 1103.88 1104.66 1104.05 1106.40 1104.22 1108.13 1104.39 1109.86 1104.56 1111.60 1104.73 1113.33 1104.90 1115.07 1105.07 1116.80 1105.24 1118.53 1105.41 1120.27 1105.57 1122.00 1105.74 1123.74 1105.90 1125.47 1106.06 1127.20 1106.21 1128.94 1106.37 1130.67 1106.52 1132.41 1106.66 1134.14 1106.80 1135.87 1106.94 1137.61 1107.07 1139.34 1107.19 1141.08 1107.32 1142.81 1107.43 1144.54 1107.54 1146.28 1107.65 1148.01 1107.75 1149.75 1107.84 1151.48 1107.93 1153.21 1108.02 1154.95 1108.10 1156.68 1108.17 1158.42 1108.24 1160.15 1108.30 1161.88 1108.36 1163.62 1108.42 1165.35 1108.47 1167.09 1108.52 1168.82 1108.57 1170.55 1108.61 1172.29 1108.65 1174.02 1108.69 1175.76 1108.72 1177.49 1108.76 1179.22 1108.79 1180.96 1108.82 1182.69 1108.85 1184.43 1108.88 1186.16 1108.91 1187.89 1108.94 1189.63 1108.98 1191.36 1109.01 1193.10 1109.04 1194.83 1109.07 1196.56 1109.11 1198.30 1109.14 1200.03 1109.18 1201.77 1109.22 1203.50 1109.26 1205.23 1109.30 1206.97 1109.35 1208.70 1109.39 1210.44 1109.44 1212.17 1109.49 1213.90 1109.55 1215.64 1109.60 1217.37 1109.66 1219.11 1109.72 1220.84 1109.78 1222.57 1109.84 1224.31 1109.90 1226.04 1109.97 1227.78 1110.04 1229.51 1110.11 1231.24 1110.18 1232.98 1110.25 1234.71 1110.33 1236.45 1110.40 1238.18 1110.48 1239.91 1110.55 1241.65 1110.63 1243.38 1110.71 1245.12 1110.78 1246.85 1110.86 1248.58 1110.94 1250.32 1111.02 1252.05 1111.10 1253.79 1111.17 1255.52 1111.25 1257.25 1111.32 1258.99 1111.40 1260.72 1111.47 1262.46 1111.54 1264.19 1111.61 1265.92 1111.68 1267.66 1111.75 1269.39 1111.81 1271.13 1111.88 1272.86 1111.94 1274.59 1112.00 1276.33 1112.05 1278.06 1112.11 1279.80 1112.16 1281.53 1112.21 1283.26 1112.26 1285.00 1112.30 1286.73 1112.34 1288.47 1112.38 1290.20 1112.42 1291.93 1112.46 1293.67 1112.49 1295.40 1112.52 1297.14 1112.55 1298.87 1112.57 1300.60 1112.60 1302.34 1112.62 1304.07 1112.64 1305.81 1112.66 1307.54 1112.68 1309.27 1112.70 1311.01 1112.72 1312.74 1112.73 1314.48 1112.75 1316.21 1112.76 1317.94 1112.78 1319.68 1112.79 1321.41 1112.81 1323.15 1112.82 1324.88 1112.83 1326.61 1112.85 1328.35 1112.86 1330.08 1112.88 1331.82 1112.89 1333.55 1112.91 1335.28 1112.92 1337.02 1112.94 1338.75 1112.96 1340.49 1112.98 1342.22 1113.00 1343.95 1113.02 1345.69 1113.04 1347.42 1113.06 1349.16 1113.09 1350.89 1113.11 1352.62 1113.14 1354.36 1113.16 1356.09 1113.19 1357.83 1113.22 1359.56 1113.25 1361.29 1113.28 1363.03 1113.31 1364.76 1113.34 1366.50 1113.37 1368.23 1113.40 1369.96 1113.44 1371.70 1113.47 1373.43 1113.51 1375.17 1113.54 1376.90 1113.58 1378.63 1113.61 1380.37 1113.65 1382.10 1113.68 1383.84 1113.72 1385.57 1113.75 1387.30 1113.79 1389.04 1113.82 1390.77 1113.86 1392.51 1113.89 1394.24 1113.93 1395.97 1113.96 1397.71 1113.99 1399.44 1114.03 1401.18 1114.06 1402.91 1114.09 1404.64 1114.12 1406.38 1114.15 1408.11 1114.18 1409.85 1114.20 1411.58 1114.23 1413.31 1114.26 1415.05 1114.28 1416.78 1114.30 1418.52 1114.33 1420.25 1114.35 1421.98 1114.37 1423.72 1114.38 1425.45 1114.40 1427.19 1114.42 1428.92 1114.43 1430.65 1114.45 1432.39 1114.46 1434.12 1114.48 1435.86 1114.49 1437.59 1114.50 1439.32 1114.51 1441.06 1114.52 1442.79 1114.53 1444.53 1114.53 1446.26 1114.54 1447.99 1114.55 1449.73 1114.56 1451.46 1114.56 1453.20 1114.57 1454.93 1114.58 1456.66 1114.58 1458.40 1114.59 1460.13 1114.60 1461.87 1114.60 1463.60 1114.61 1465.33 1114.62 1467.07 1114.62 1468.80 1114.63 1470.54 1114.64 1472.27 1114.65 1474.00 1114.65 1475.74 1114.66 1477.47 1114.67 1479.21 1114.68 1480.94 1114.69 1482.67 1114.70 1484.41 1114.71 1486.14 1114.72 1487.88 1114.73 1489.61 1114.74 1491.34 1114.76 1493.08 1114.77 1494.81 1114.78 1496.55 1114.80 1498.28 1114.81 1500.01 1114.82 1501.75 1114.84 1503.48 1114.85 1505.22 1114.87 1506.95 1114.88 1508.68 1114.90 1510.42 1114.91 1512.15 1114.93 1513.89 1114.95 1515.62 1114.96 1517.35 1114.98 1519.09 1114.99 1520.82 1115.01 1522.56 1115.03 1524.29 1115.04 1526.02 1115.06 1527.76 1115.07 1529.49 1115.09 1531.23 1115.11 1532.96 1115.12 1534.69 1115.14 1536.43 1115.15 1538.16 1115.16 1539.90 1115.18 1541.63 1115.19 1543.36 1115.21 1545.10 1115.22 1546.83 1115.23 1548.57 1115.24 1550.30 1115.25 1552.03 1115.26 1553.77 1115.27 1555.50 1115.28 1557.24 1115.29 1558.97 1115.30 1560.70 1115.31 1562.44 1115.32 1564.17 1115.33 1565.91 1115.33 1567.64 1115.34 1569.37 1115.35 1571.11 1115.35 1572.84 1115.36 1574.58 1115.36 1576.31 1115.37 1578.04 1115.37 1579.78 1115.37 1581.51 1115.38 1583.25 1115.38 1584.98 1115.38 1586.71 1115.39 1588.45 1115.39 1590.18 1115.39 1591.92 1115.40 1593.65 1115.40 1595.38 1115.40 1597.12 1115.40 1598.85 1115.41 1600.59 1115.41 1602.32 1115.41 1604.05 1115.42 1605.79 1115.42 1607.52 1115.42 1609.26 1115.43 1610.99 1115.43 1612.72 1115.44 1614.46 1115.44 1616.19 1115.44 1617.93 1115.45 1619.66 1115.45 1621.39 1115.46 1623.13 1115.46 1624.86 1115.47 1626.60 1115.47 1628.33 1115.48 1630.06 1115.48 1631.80 1115.49 1633.53 1115.50 1635.27 1115.50 1637.00 1115.51 1638.73 1115.52 1640.47 1115.52 1642.20 1115.53 1643.94 1115.54 1645.67 1115.54 1647.40 1115.55 1649.14 1115.56 1650.87 1115.57 1652.61 1115.57 1654.34 1115.58 1656.07 1115.59 1657.81 1115.60 1659.54 1115.60 1661.28 1115.61 1663.01 1115.62 1664.74 1115.62 1666.48 1115.63 1668.21 1115.64 1669.95 1115.65 1671.68 1115.65 1673.41 1115.66 1675.15 1115.67 1676.88 1115.67 1678.62 1115.68 1680.35 1115.68 1682.08 1115.69 1683.82 1115.70 1685.55 1115.70 1687.29 1115.71 1689.02 1115.71 1690.75 1115.71 1692.49 1115.72 1694.22 1115.72 1695.96 1115.73 1697.69 1115.73 1699.42 1115.73 1701.16 1115.74 1702.89 1115.74 1704.63 1115.74 1706.36 1115.75 1708.09 1115.75 1709.83 1115.75 1711.56 1115.75 1713.30 1115.76 1715.03 1115.76 1716.76 1115.76 1718.50 1115.76 1720.23 1115.76 1721.97 1115.76 1723.70 1115.76 1725.43 1115.77 1727.17 1115.77 1728.90 1115.77 1730.64 1115.77 1732.37 1115.77 1734.10 1115.77 1735.84 1115.77 1737.57 1115.78 1739.31 1115.78 1741.04 1115.78 1742.77 1115.78 1744.51 1115.78 1746.24 1115.78 1747.98 1115.79 1749.71 1115.79 1751.44 1115.79 1753.18 1115.79 1754.91 1115.79 1756.65 1115.80 1758.38 1115.80 1760.11 1115.80 1761.85 1115.80 1763.58 1115.80 1765.32 1115.81 1767.05 1115.81 1768.78 1115.81 1770.52 1115.82 1772.25 1115.82 1773.99 1115.82 1775.72 1115.82 1777.45 1115.83 1779.19 1115.83 1780.92 1115.83 1782.66 1115.84 1784.39 1115.84 1786.12 1115.84 1787.86 1115.85 1789.59 1115.85 1791.33 1115.85 1793.06 1115.86 1794.79 1115.86 1796.53 1115.86 1798.26 1115.87 1800.00 1115.87 1801.73 1115.87 1803.46 1115.88 1805.20 1115.88 1806.93 1115.88 1808.67 1115.89 1810.40 1115.89 1812.13 1115.89 1813.87 1115.90 1815.60 1115.90 1817.34 1115.90 1819.07 1115.90 1820.80 1115.91 1822.54 1115.91 1824.27 1115.91 1826.01 1115.91 1827.74 1115.91 1829.47 1115.92 1831.21 1115.92 1832.94 1115.92 1834.68 1115.92 1836.41 1115.92 1838.14 1115.92 1839.88 1115.93 1841.61 1115.93 1843.35 1115.93 1845.08 1115.93 1846.81 1115.93 1848.55 1115.93 1850.28 1115.93 1852.02 1115.93 1853.75 1115.93 1855.48 1115.93 1857.22 1115.94 1858.95 1115.94 1860.69 1115.94 1862.42 1115.94 1864.15 1115.94 1865.89 1115.94 1867.62 1115.94 1869.36 1115.94 1871.09 1115.94 1872.82 1115.94 1874.56 1115.94 1876.29 1115.94 1878.03 1115.94 1879.76 1115.94 1881.49 1115.94 1883.23 1115.95 1884.96 1115.95 1886.70 1115.95 1888.43 1115.95 1890.16 1115.95 1891.90 1115.95 1893.63 1115.95 1895.37 1115.95 1897.10 1115.95 1898.83 1115.95 1900.57 1115.95 1902.30 1115.96 1904.04 1115.96 1905.77 1115.96 1907.50 1115.96 1909.24 1115.96 1910.97 1115.96 1912.71 1115.96 1914.44 1115.97 1916.17 1115.97 1917.91 1115.97 1919.64 1115.97 1921.38 1115.97 1923.11 1115.97 1924.84 1115.97 1926.58 1115.98 1928.31 1115.98 1930.05 1115.98 1931.78 1115.98 1933.51 1115.98 1935.25 1115.98 1936.98 1115.99 1938.72 1115.99 1940.45 1115.99 1942.18 1115.99 1943.92 1115.99 1945.65 1115.99 1947.39 1115.99 1949.12 1116.00 1950.85 1116.00 1952.59 1116.00 1954.32 1116.00 1956.06 1116.00 1957.79 1116.00 1959.52 1116.00 1961.26 1116.00 1962.99 1116.00 1964.73 1116.00 1966.46 1116.01 1968.19 1116.01 1969.93 1116.01 1971.66 1116.01 1973.40 1116.01 1975.13 1116.01 1976.86 1116.01 1978.60 1116.01 1980.33 1116.01 1982.07 1116.01 1983.80 1116.01 1985.53 1116.01 1987.27 1116.01 1989.00 1116.01 1990.74 1116.01 1992.47 1116.01 1994.20 1116.01 1995.94 1116.01 1997.67 1116.01 1999.41 1116.02 2001.14 1116.02 2002.87 1116.02 2004.61 1116.02 2006.34 1116.02 2008.08 1116.02 2009.81 1116.02 2011.54 1116.02 2013.28 1116.02 2015.01 1116.02 2016.75 1116.02 2018.48 1116.02 2020.21 1116.02 2021.95 1116.02 2023.68 1116.02 2025.42 1116.02 2027.15 1116.02 2028.88 1116.02 2030.62 1116.02 2032.35 1116.02 2034.09 1116.02 2035.82 1116.02 2037.55 1116.02 2039.29 1116.02 2041.02 1116.02 2042.76 1116.02 2044.49 1116.03 2046.22 1116.03 2047.96 1116.03 2049.69 1116.03 2051.43 1116.03 2053.16 1116.03 2054.89 1116.03 2056.63 1116.03 2058.36 1116.03 2060.10 1116.03 2061.83 1116.03 2063.56 1116.03 2065.30 1116.03 2067.03 1116.03 2068.77 1116.04 2070.50 1116.04"/>
</g>
<g fill="#000" shape-rendering="crispEdges">
<path fill-rule="evenodd" d="M294,24 H2113 V1153 H294 Z M306,37 H2100 V1141 H306 Z"/>
<rect x="330" y="1125" width="13" height="16"/>
<rect x="330" y="37" width="13" height="15"/>
<rect x="416" y="1134" width="13" height="7"/>
<rect x="416" y="37" width="13" height="7"/>
<rect x="503" y="1134" width="13" height="7"/>
<rect x="503" y="37" width="13" height="7"/>
<rect x="590" y="1134" width="13" height="7"/>
<rect x="590" y="37" width="13" height="7"/>
<rect x="677" y="1125" width="12" height="16"/>
<rect x="677" y="37" width="12" height="15"/>
<rect x="763" y="1134" width="13" height="7"/>
<rect x="763" y="37" width="13" height="7"/>
<rect x="850" y="1134" width="13" height="7"/>
<rect x="850" y="37" width="13" height="7"/>
<rect x="937" y="1134" width="13" height="7"/>
<rect x="937" y="37" width="13" height="7"/>
<rect x="1023" y="1125" width="13" height="16"/>
<rect x="1023" y="37" width="13" height="15"/>
<rect x="1110" y="1134" width="13" height="7"/>
<rect x="1110" y="37" width="13" height="7"/>
<rect x="1197" y="1134" width="13" height="7"/>
<rect x="1197" y="37" width="13" height="7"/>
<rect x="1284" y="1134" width="12" height="7"/>
<rect x="1284" y="37" width="12" height="7"/>
<rect x="1370" y="1125" width="13" height="16"/>
<rect x="1370" y="37" width="13" height="15"/>
<rect x="1457" y="1134" width="13" height="7"/>
<rect x="1457" y="37" width="13" height="7"/>
<rect x="1544" y="1134" width="13" height="7"/>
<rect x="1544" y="37" width="13" height="7"/>
<rect x="1630" y="1134" width="13" height="7"/>
<rect x="1630" y="37" width="13" height="7"/>
<rect x="1717" y="1125" width="13" height="16"/>
<rect x="1717" y="37" width="13" height="15"/>
<rect x="1804" y="1134" width="13" height="7"/>
<rect x="1804" y="37" width="13" height="7"/>
<rect x="1891" y="1134" width="12" height="7"/>
<rect x="1891" y="37" width="12" height="7"/>
<rect x="1977" y="1134" width="13" height="7"/>
<rect x="1977" y="37" width="13" height="7"/>
<rect x="2064" y="1125" width="13" height="16"/>
<rect x="2064" y="37" width="13" height="15"/>
<rect x="306" y="1110" width="16" height="12"/>
<rect x="2085" y="1110" width="15" height="12"/>
<rect x="306" y="1058" width="7" height="13"/>
<rect x="2093" y="1058" width="7" height="13"/>
<rect x="306" y="1006" width="7" height="13"/>
<rect x="2093" y="1006" width="7" height="13"/>
<rect x="306" y="955" width="7" height="12"/>
<rect x="2093" y="955" width="7" height="12"/>
<rect x="306" y="903" width="16" height="13"/>
<rect x="2085" y="903" width="15" height="13"/>
<rect x="306" y="851" width="7" height="13"/>
<rect x="2093" y="851" width="7" height="13"/>
<rect x="306" y="799" width="7" height="13"/>
<rect x="2093" y="799" width="7" height="13"/>
<rect x="306" y="748" width="7" height="13"/>
<rect x="2093" y="748" width="7" height="13"/>
<rect x="306" y="696" width="16" height="13"/>
<rect x="2085" y="696" width="15" height="13"/>
<rect x="306" y="644" width="7" height="13"/>
<rect x="2093" y="644" width="7" height="13"/>
<rect x="306" y="593" width="7" height="13"/>
<rect x="2093" y="593" width="7" height="13"/>
<rect x="306" y="541" width="7" height="13"/>
<rect x="2093" y="541" width="7" height="13"/>
<rect x="306" y="489" width="16" height="13"/>
<rect x="2085" y="489" width="15" height="13"/>
<rect x="306" y="438" width="7" height="12"/>
<rect x="2093" y="438" width="7" height="12"/>
<rect x="306" y="386" width="7" height="13"/>
<rect x="2093" y="386" width="7" height="13"/>
<rect x="306" y="334" width="7" height="13"/>
<rect x="2093" y="334" width="7" height="13"/>
<rect x="306" y="283" width="16" height="12"/>
<rect x="2085" y="283" width="15" height="12"/>
<rect x="306" y="231" width="7" height="13"/>
<rect x="2093" y="231" width="7" height="13"/>
<rect x="306" y="179" width="7" height="13"/>
<rect x="2093" y="179" width="7" height="13"/>
<rect x="306" y="127" width="7" height="13"/>
<rect x="2093" y="127" width="7" height="13"/>
<rect x="306" y="76" width="16" height="13"/>
<rect x="2085" y="76" width="15" height="13"/>
</g>
<filter id="hard" filterUnits="userSpaceOnUse" x="0" y="0" width="2148" height="1419" color-interpolation-filters="sRGB"><feComponentTransfer><feFuncA type="discrete" tableValues="0 1"/></feComponentTransfer></filter>
<g filter="url(#hard)">
<text><tspan x="310.31" y="1254.05" font-size="97.60" textLength="52.59" lengthAdjust="spacingAndGlyphs">0</tspan></text>
<text><tspan x="654.91" y="1254.00" font-size="97.53" textLength="55.18" lengthAdjust="spacingAndGlyphs">2</tspan></text>
<text><tspan x="1002.70" y="1254.00" font-size="97.53" textLength="53.20" lengthAdjust="spacingAndGlyphs">4</tspan></text>
<text><tspan x="1347.82" y="1254.05" font-size="97.60" textLength="55.68" lengthAdjust="spacingAndGlyphs">6</tspan></text>
<text><tspan x="1696.81" y="1254.05" font-size="97.60" textLength="52.39" lengthAdjust="spacingAndGlyphs">8</tspan></text>
<clipPath id="k1"><path clip-rule="evenodd" d="M-3000,-3000H3000V3000H-3000ZM2023.83,1246.01H2043.93V1256.00H2023.83ZM2053.05,1246.01H2072.34V1256.00H2053.05Z"/></clipPath>
<text clip-path="url(#k1)"><tspan x="2017.97" y="1254.00" font-size="98.98" textLength="57.41" lengthAdjust="spacingAndGlyphs">1</tspan><tspan x="2070.15" y="1254.15" font-size="97.74" textLength="52.65" lengthAdjust="spacingAndGlyphs">0</tspan></text>
<text><tspan x="151.10" y="1152.05" font-size="97.74" textLength="52.70" lengthAdjust="spacingAndGlyphs">0</tspan><tspan x="203.23" y="1152.00" font-size="75.75" textLength="23.49" lengthAdjust="spacingAndGlyphs">.</tspan><tspan x="230.21" y="1152.05" font-size="97.74" textLength="52.59" lengthAdjust="spacingAndGlyphs">0</tspan></text>
<text><tspan x="151.10" y="945.05" font-size="97.74" textLength="52.70" lengthAdjust="spacingAndGlyphs">0</tspan><tspan x="203.23" y="945.00" font-size="75.75" textLength="23.49" lengthAdjust="spacingAndGlyphs">.</tspan><tspan x="227.79" y="945.00" font-size="97.67" textLength="55.42" lengthAdjust="spacingAndGlyphs">2</tspan></text>
<text><tspan x="151.10" y="738.05" font-size="97.74" textLength="52.70" lengthAdjust="spacingAndGlyphs">0</tspan><tspan x="203.23" y="738.00" font-size="75.75" textLength="23.49" lengthAdjust="spacingAndGlyphs">.</tspan><tspan x="228.60" y="738.00" font-size="97.68" textLength="53.31" lengthAdjust="spacingAndGlyphs">4</tspan></text>
<text><tspan x="151.10" y="531.05" font-size="97.74" textLength="52.70" lengthAdjust="spacingAndGlyphs">0</tspan><tspan x="203.23" y="531.00" font-size="75.75" textLength="23.49" lengthAdjust="spacingAndGlyphs">.</tspan><tspan x="227.70" y="531.05" font-size="97.74" textLength="55.80" lengthAdjust="spacingAndGlyphs">6</tspan></text>
<text><tspan x="151.10" y="324.05" font-size="97.74" textLength="52.70" lengthAdjust="spacingAndGlyphs">0</tspan><tspan x="203.23" y="324.00" font-size="75.75" textLength="23.49" lengthAdjust="spacingAndGlyphs">.</tspan><tspan x="229.58" y="324.05" font-size="97.74" textLength="52.74" lengthAdjust="spacingAndGlyphs">8</tspan></text>
<clipPath id="k2"><path clip-rule="evenodd" d="M-3000,-3000H3000V3000H-3000ZM156.83,110.01H176.96V120.00H156.83ZM186.10,110.01H205.42V120.00H186.10Z"/></clipPath>
<text clip-path="url(#k2)"><tspan x="150.95" y="118.00" font-size="98.98" textLength="57.52" lengthAdjust="spacingAndGlyphs">1</tspan><tspan x="203.23" y="118.00" font-size="75.75" textLength="23.49" lengthAdjust="spacingAndGlyphs">.</tspan><tspan x="230.21" y="118.05" font-size="97.74" textLength="52.59" lengthAdjust="spacingAndGlyphs">0</tspan></text>
<text><tspan x="1158.71" y="1395.85" font-size="98.48" textLength="63.47" lengthAdjust="spacingAndGlyphs">A</tspan><tspan x="1222.53" y="1396.27" font-size="100.18" textLength="26.23" lengthAdjust="spacingAndGlyphs">t</tspan></text>
<clipPath id="k3"><path clip-rule="evenodd" d="M-3000,-3000H3000V3000H-3000ZM-562.08,104.35H-550.59V111.10H-562.08ZM-545.80,104.35H-534.73V111.10H-545.80Z"/></clipPath>
<text transform="rotate(-90)" clip-path="url(#k3)"><tspan x="-644.04" y="83.13" font-size="99.08" textLength="64.66" lengthAdjust="spacingAndGlyphs" font-style="italic">C</tspan><tspan x="-579.12" y="98.10" font-size="66.52" textLength="15.46" lengthAdjust="spacingAndGlyphs" font-style="italic">l</tspan><tspan x="-564.21" y="109.10" font-size="55.52" textLength="30.13" lengthAdjust="spacingAndGlyphs">1</tspan></text>
</g>
</svg></body></html>
